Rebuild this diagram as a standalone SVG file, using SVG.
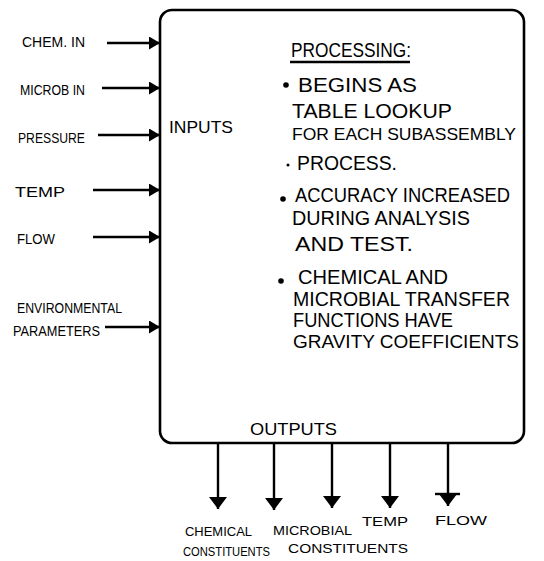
<svg xmlns="http://www.w3.org/2000/svg" width="544" height="561" viewBox="0 0 544 561">
<style>
.box{fill:#fff;stroke:#000;stroke-width:2.6}
.ln{stroke:#000;stroke-width:2.4;fill:none}
.t{font-family:"Liberation Sans",Arial,sans-serif;fill:#000}
.s{font-size:15px}
.o{font-size:13px}
.m{font-size:17px}
.p{font-size:20px}
</style>
<defs>
<marker id="ah" viewBox="0 0 11 13" refX="11" refY="6.5" markerWidth="11" markerHeight="13" orient="auto" markerUnits="userSpaceOnUse">
<path d="M0,0 L11,6.5 L0,13 Z" fill="#000"/>
</marker>
<marker id="ahb" viewBox="0 0 12 18" refX="12" refY="9" markerWidth="12" markerHeight="18" orient="auto" markerUnits="userSpaceOnUse">
<path d="M0,0 L12,9 L0,18 Z" fill="#000"/>
</marker>
</defs>
<rect width="544" height="561" fill="#fff"/>
<g id="process">
<rect class="box" x="160" y="10" width="364" height="433" rx="12"/>
<text class="t m" x="169" y="133" textLength="64" lengthAdjust="spacingAndGlyphs">INPUTS</text>
<text class="t m" x="250" y="435" textLength="87" lengthAdjust="spacingAndGlyphs">OUTPUTS</text>
<text class="t p" x="291" y="57" textLength="120" lengthAdjust="spacingAndGlyphs">PROCESSING:</text>
<line class="ln" x1="290" y1="62" x2="410" y2="62" stroke-width="1.8"/>
<circle cx="286" cy="85" r="2.8"/>
<text class="t p" x="298" y="92" textLength="119" lengthAdjust="spacingAndGlyphs">BEGINS AS</text>
<text class="t p" x="292" y="118" textLength="160" lengthAdjust="spacingAndGlyphs">TABLE LOOKUP</text>
<text class="t" font-size="17" x="292" y="140" textLength="224" lengthAdjust="spacingAndGlyphs">FOR EACH SUBASSEMBLY</text>
<circle cx="288" cy="165" r="1.5"/>
<text class="t p" x="297" y="170" textLength="100" lengthAdjust="spacingAndGlyphs">PROCESS.</text>
<circle cx="283" cy="199" r="2.8"/>
<text class="t p" x="295" y="202" textLength="215" lengthAdjust="spacingAndGlyphs">ACCURACY INCREASED</text>
<text class="t p" x="292" y="225" textLength="178" lengthAdjust="spacingAndGlyphs">DURING ANALYSIS</text>
<text class="t p" x="295" y="251" textLength="118" lengthAdjust="spacingAndGlyphs">AND TEST.</text>
<circle cx="281" cy="281" r="2.8"/>
<text class="t p" x="298" y="284" textLength="150" lengthAdjust="spacingAndGlyphs">CHEMICAL AND</text>
<text class="t p" x="293" y="306" textLength="217" lengthAdjust="spacingAndGlyphs">MICROBIAL TRANSFER</text>
<text class="t p" x="293" y="327" textLength="160" lengthAdjust="spacingAndGlyphs">FUNCTIONS HAVE</text>
<text class="t" font-size="18" x="293" y="348" textLength="226" lengthAdjust="spacingAndGlyphs">GRAVITY COEFFICIENTS</text>
</g>
<g id="in-chem"><text class="t s" x="22" y="47" textLength="63" lengthAdjust="spacingAndGlyphs">CHEM. IN</text></g>
<g id="in-microb"><text class="t s" x="20" y="95" textLength="65" lengthAdjust="spacingAndGlyphs">MICROB IN</text></g>
<g id="in-pressure"><text class="t s" x="18" y="143" textLength="67" lengthAdjust="spacingAndGlyphs">PRESSURE</text></g>
<g id="in-temp"><text class="t s" x="15" y="197" textLength="50" lengthAdjust="spacingAndGlyphs">TEMP</text></g>
<g id="in-flow"><text class="t s" x="17" y="244" textLength="38" lengthAdjust="spacingAndGlyphs">FLOW</text></g>
<g id="in-env">
<text class="t s" x="17" y="313" textLength="105" lengthAdjust="spacingAndGlyphs">ENVIRONMENTAL</text>
<text class="t s" x="13" y="336" textLength="87" lengthAdjust="spacingAndGlyphs">PARAMETERS</text>
</g>
<g id="out-chem">
<text class="t o" x="185" y="536" textLength="67" lengthAdjust="spacingAndGlyphs">CHEMICAL</text>
<text class="t o" x="183" y="556" textLength="87" lengthAdjust="spacingAndGlyphs">CONSTITUENTS</text>
</g>
<g id="out-microb">
<text class="t o" x="273" y="535" textLength="79" lengthAdjust="spacingAndGlyphs">MICROBIAL</text>
<text class="t o" x="288" y="553" textLength="120" lengthAdjust="spacingAndGlyphs">CONSTITUENTS</text>
</g>
<g id="out-temp"><text class="t o" x="362" y="526" textLength="46" lengthAdjust="spacingAndGlyphs">TEMP</text></g>
<g id="out-flow"><text class="t o" x="435" y="525" textLength="52" lengthAdjust="spacingAndGlyphs">FLOW</text></g>
<g id="connectors">
<line class="ln" x1="107" y1="43" x2="160" y2="43" marker-end="url(#ah)"/>
<line class="ln" x1="102" y1="88" x2="160" y2="88" marker-end="url(#ah)"/>
<line class="ln" x1="98" y1="135" x2="160" y2="135" marker-end="url(#ah)"/>
<line class="ln" x1="93" y1="190" x2="160" y2="190" marker-end="url(#ah)"/>
<line class="ln" x1="93" y1="237" x2="160" y2="237" marker-end="url(#ah)"/>
<line class="ln" x1="105" y1="327" x2="160" y2="327" marker-end="url(#ah)"/>
<line class="ln" x1="218" y1="443" x2="218" y2="509" marker-end="url(#ahb)"/>
<line class="ln" x1="274" y1="443" x2="274" y2="510" marker-end="url(#ahb)"/>
<line class="ln" x1="332" y1="443" x2="332" y2="508" marker-end="url(#ahb)"/>
<line class="ln" x1="390" y1="443" x2="390" y2="508" marker-end="url(#ahb)"/>
<line class="ln" x1="448" y1="443" x2="448" y2="506" marker-end="url(#ahb)"/>
<line class="ln" x1="435" y1="494" x2="460" y2="494" stroke-width="2"/>
</g>
</svg>
